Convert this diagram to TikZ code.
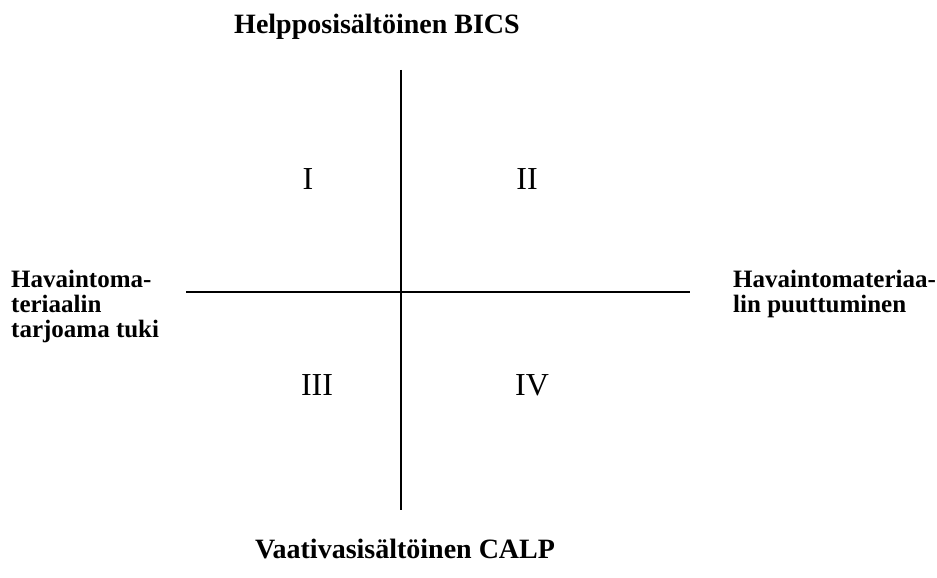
\documentclass[tikz,border=0pt]{standalone}
\usepackage{fontspec}
\setmainfont{Liberation Serif}
\usepackage{tikz}
\usetikzlibrary{positioning}

\begin{document}
\begin{tikzpicture}[x=1pt,y=-1pt,
    titlelabel/.style={font=\fontsize{28}{30}\selectfont\bfseries, inner sep=0pt, anchor=base},
    sidelabel/.style={font=\fontsize{25}{25}\selectfont\bfseries, inner sep=0pt,
        align=left, anchor=base west},
    quadrant/.style={font=\fontsize{32}{34}\selectfont, inner sep=0pt, anchor=base},
    axisline/.style={line width=1.3pt}]
    \useasboundingbox (0,0) rectangle (937,578);

    % axes
    \coordinate (top) at (401,70);
    \coordinate (bottom) at (401,510);
    \coordinate (left) at (186,292);
    \coordinate (right) at (690,292);
    \draw[axisline] (top) -- (bottom);
    \draw[axisline] (left) -- (right);

    % end labels (base = last line)
    \node[titlelabel] (bics) at (377,34) {Helpposisältöinen BICS};
    \node[titlelabel] (calp) at (405,558) {Vaativasisältöinen CALP};
    \node[sidelabel] (tuki) at (11,337)
        {Havaintoma-\\teriaalin\\tarjoama tuki};
    \node[sidelabel] (puute) at (733,312)
        {Havaintomateriaa-\\lin puuttuminen};

    % quadrants
    \node[quadrant] (q1) at (308,189) {I};
    \node[quadrant] (q2) at (527,189) {II};
    \node[quadrant] (q3) at (317,395) {III};
    \node[quadrant] (q4) at (532,395) {IV};
\end{tikzpicture}
\end{document}
